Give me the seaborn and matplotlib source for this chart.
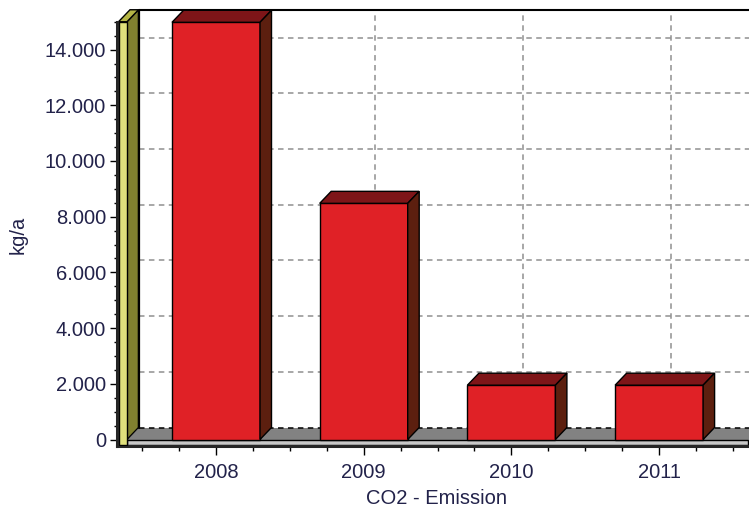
import matplotlib
matplotlib.use("Agg")
from matplotlib import pyplot as plt
from matplotlib.patches import Polygon, Rectangle
from matplotlib.ticker import FixedLocator, MultipleLocator, FuncFormatter
import seaborn as sns
import pandas as pd

# CO2 emission per year (kg/a)
years = ["2008", "2009", "2010", "2011"]
emission = [14980, 8480, 1950, 1950]
y_ticks = [0, 2000, 4000, 6000, 8000, 10000, 12000, 14000]

sns.set_style("white")
plt.rcParams['font.family'] = ['Liberation Sans', 'DejaVu Sans']

txt_col = '#22224a'
red_front, red_top, red_side = '#e02126', '#7e1518', '#5c1f0f'
wall_front, wall_side, wall_top = '#e0e07c', '#80802f', '#b6b646'
floor_col, floor_edge = '#828282', '#c8c8c8'
grid_col = '#8f8f8f'

# pixel geometry of the reference
px_cat = 147.7            # px per category
px_unit = 55.7 / 2000     # px per kg/a
fig = plt.figure(figsize=(7.49, 5.13), dpi=100)
ax = fig.add_axes([117 / 749, (513 - 446) / 513, 632 / 749, 438 / 513])

df = pd.DataFrame({"year": years, "co2": emission})
sns.barplot(data=df, x="year", y="co2", color=red_front, saturation=1,
            width=88 / px_cat, edgecolor='black', linewidth=1, ax=ax, zorder=4)

x_lo = -(216 - 117) / px_cat
x_hi = x_lo + 632 / px_cat
y_lo = -6.5 / px_unit
y_hi = y_lo + 438 / px_unit
ax.set_xlim(x_lo, x_hi)
ax.set_ylim(y_lo, y_hi)

DX = 11.5 / px_cat        # depth offset
DY = 12 / px_unit
WALL_L = x_lo + 1.5 / px_cat
WALL_X = -(216 - 127) / px_cat
FLOOR_T = 5.5 / px_unit
Y_TOP = 15000

# back wall gridlines
dash = (0, (3.6, 2.9))
for y in y_ticks[1:]:
    ax.plot([WALL_X + DX, x_hi + 1], [y + DY, y + DY], ls=dash, color=grid_col,
            lw=1.1, zorder=1)
for i in range(len(years)):
    ax.plot([i + DX, i + DX], [DY, Y_TOP + DY], ls=dash, color=grid_col,
            lw=1.1, zorder=1)

# back wall outline
ax.plot([WALL_X + DX, x_hi + 1], [Y_TOP + DY, Y_TOP + DY], color='black', lw=1.5, zorder=1)

# floor
ax.add_patch(Polygon([(WALL_X, 0), (x_hi + 1, 0), (x_hi + 1, DY), (WALL_X + DX, DY)],
                     closed=True, fc=floor_col, ec='none', zorder=2))
ax.plot([WALL_X + DX, x_hi + 1], [DY, DY], ls=(0, (3.6, 2.9)), color='black', lw=1.1, zorder=2)
ax.add_patch(Rectangle((WALL_X, -FLOOR_T), x_hi - WALL_X - 0.01, FLOOR_T,
                       fc=floor_edge, ec='black', lw=1, zorder=2))

# left wall
ax.add_patch(Polygon([(WALL_X, 0), (WALL_X, Y_TOP), (WALL_X + DX, Y_TOP + DY), (WALL_X + DX, DY)],
                     closed=True, fc=wall_side, ec='black', lw=1, zorder=3))
ax.plot([WALL_X + DX, WALL_X + DX], [DY, Y_TOP + DY], color='black', lw=1.6, zorder=3)
ax.add_patch(Polygon([(WALL_L, Y_TOP), (WALL_X, Y_TOP), (WALL_X + DX, Y_TOP + DY), (WALL_L + DX, Y_TOP + DY)],
                     closed=True, fc=wall_top, ec='black', lw=1, zorder=3))
ax.add_patch(Rectangle((WALL_L, -FLOOR_T), WALL_X - WALL_L, Y_TOP + FLOOR_T,
                       fc=wall_front, ec='black', lw=1, zorder=3))

# 3d faces of the bars
for p in ax.patches[:]:
    if p.get_facecolor()[:3] != matplotlib.colors.to_rgb(red_front):
        continue
    x0, w, h = p.get_x(), p.get_width(), p.get_height()
    ax.add_patch(Polygon([(x0, h), (x0 + w, h), (x0 + w + DX, h + DY), (x0 + DX, h + DY)],
                         closed=True, fc=red_top, ec='black', lw=1, zorder=4))
    ax.add_patch(Polygon([(x0 + w, 0), (x0 + w, h), (x0 + w + DX, h + DY), (x0 + w + DX, DY)],
                         closed=True, fc=red_side, ec='black', lw=1, zorder=4))

# axes, ticks
for s in ['top', 'right']:
    ax.spines[s].set_visible(False)
ax.spines['left'].set_linewidth(2.2)
ax.spines['bottom'].set_linewidth(2.2)
ax.spines['left'].set_bounds(y_lo, Y_TOP)
ax.spines['left'].set_zorder(5)

ax.yaxis.set_major_locator(FixedLocator(y_ticks))
ax.yaxis.set_minor_locator(MultipleLocator(500))
ax.yaxis.set_major_formatter(FuncFormatter(lambda v, pos: f"{v:,.0f}".replace(',', '.')))
ax.xaxis.set_minor_locator(MultipleLocator(0.25))
ax.tick_params(axis='y', which='major', direction='out', length=5, width=1, color='black',
               labelsize=14.5, labelcolor=txt_col, pad=3, left=True)
ax.tick_params(axis='y', which='minor', direction='out', length=2.5, width=1, color='black', left=True)
ax.tick_params(axis='x', which='major', direction='out', length=6.5, width=1, color='black',
               labelsize=14.5, labelcolor=txt_col, pad=6, bottom=True)
ax.tick_params(axis='x', which='minor', direction='out', length=3.5, width=1, color='black', bottom=True)
ax.set_xlabel('')
ax.set_ylabel('')
ax.grid(False)

fig.text(18 / 749, 1 - 235 / 513, 'kg/a', rotation=90, ha='center', va='center',
         fontsize=14.5, color=txt_col)
fig.text(436 / 749, 1 - 498 / 513, 'CO2 - Emission', ha='center', va='center',
         fontsize=14.5, color=txt_col)

fig.savefig('out.png', dpi=100)
